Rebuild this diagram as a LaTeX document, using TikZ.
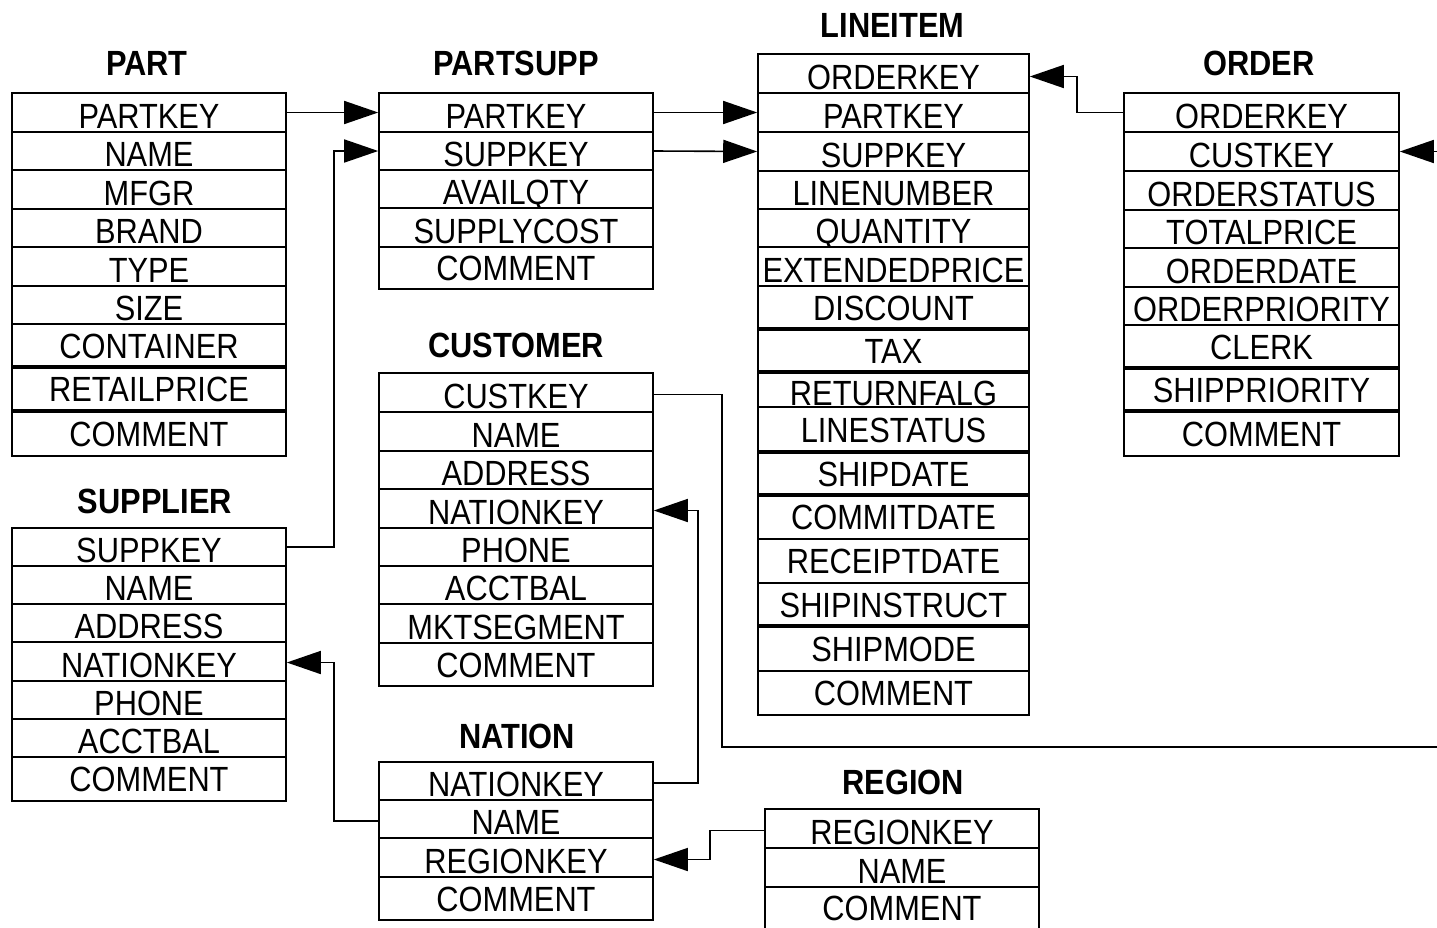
\documentclass[tikz,border=0pt]{standalone}
\usepackage{fontspec}
\newfontfamily\dbfont[FakeStretch=0.88]{Liberation Sans}
\usetikzlibrary{arrows.meta}
\tikzset{
  row/.style={draw, line width=1.6pt, fill=white, inner sep=0pt, text depth=0pt,
    font=\dbfont\fontsize{35}{42}\selectfont},
  tabletitle/.style={inner sep=0pt, text height=25pt, text depth=0pt,
    font=\dbfont\bfseries\fontsize{35}{42}\selectfont},
  sep/.style={line width=3.4pt},
  fk/.style={line width=1.6pt, -{Triangle[length=34pt,width=23pt]}}
}
\newcommand\dbtable[4]{%
  \pgfmathsetmacro\dbw{#3-#2}%
  \pgfmathsetmacro\dbx{(#2+#3)/2}%
  \foreach \lab/\rt/\rb/\nm in {#4} {%
    \pgfmathsetmacro\dbh{\rb-\rt}%
    \pgfmathsetmacro\dby{(\rt+\rb)/2}%
    \pgfmathsetmacro\dbth{\dbh<41 ? 31 : 25}%
    \node[row, minimum width=\dbw pt, minimum height=\dbh pt, text height=\dbth pt] (#1-\nm) at (\dbx,\dby) {\lab};
  }%
}
\begin{document}
\begin{tikzpicture}[x=1pt,y=-1pt]
\useasboundingbox (0,0) rectangle (1437,927);
\clip (0,0) rectangle (1437,927);

% titles
\node[tabletitle] (t-part) at (147,62.5) {PART};
\node[tabletitle] (t-partsupp) at (516,62.5) {PARTSUPP};
\node[tabletitle] (t-lineitem) at (892.5,25) {LINEITEM};
\node[tabletitle] (t-order) at (1259,63) {ORDER};
\node[tabletitle] (t-customer) at (516,345) {CUSTOMER};
\node[tabletitle] (t-supplier) at (155,501) {SUPPLIER};
\node[tabletitle] (t-nation) at (517,736) {NATION};
\node[tabletitle] (t-region) at (903,782) {REGION};

% tables
\dbtable{part}{12}{286}{PARTKEY/93/132/partkey, NAME/132/170/name, MFGR/170/209/mfgr, BRAND/209/247/brand, TYPE/247/286/type, SIZE/286/324/size, CONTAINER/324/367/container, RETAILPRICE/367/411/retailprice, COMMENT/411/456/comment}
\dbtable{partsupp}{379}{653}{PARTKEY/93/132/partkey, SUPPKEY/132/170/suppkey, AVAILQTY/170/208/availqty, SUPPLYCOST/208/247/supplycost, COMMENT/247/289/comment}
\dbtable{lineitem}{758}{1029}{ORDERKEY/54/93/orderkey, PARTKEY/93/132/partkey, SUPPKEY/132/171/suppkey, LINENUMBER/171/209/linenumber, QUANTITY/209/247/quantity, EXTENDEDPRICE/247/286/extendedprice, DISCOUNT/286/329/discount, TAX/329/372/tax, RETURNFALG/372/407/returnflag, LINESTATUS/407/452/linestatus, SHIPDATE/452/495/shipdate, COMMITDATE/495/539/commitdate, RECEIPTDATE/539/583/receiptdate, SHIPINSTRUCT/583/626/shipinstruct, SHIPMODE/626/671/shipmode, COMMENT/671/715/comment}
\dbtable{order}{1124}{1399}{ORDERKEY/93/132/orderkey, CUSTKEY/132/171/custkey, ORDERSTATUS/171/210/orderstatus, TOTALPRICE/210/248/totalprice, ORDERDATE/248/287/orderdate, ORDERPRIORITY/287/325/orderpriority, CLERK/325/368/clerk, SHIPPRIORITY/368/411/shippriority, COMMENT/411/456/comment}
\dbtable{customer}{379}{653}{CUSTKEY/373/412/custkey, NAME/412/451/name, ADDRESS/451/489/address, NATIONKEY/489/528/nationkey, PHONE/528/566/phone, ACCTBAL/566/604/acctbal, MKTSEGMENT/604/643/mktsegment, COMMENT/643/686/comment}
\dbtable{supplier}{12}{286}{SUPPKEY/528/566/suppkey, NAME/566/604/name, ADDRESS/604/642/address, NATIONKEY/642/681/nationkey, PHONE/681/719/phone, ACCTBAL/719/757/acctbal, COMMENT/757/801/comment}
\dbtable{nation}{379}{653}{NATIONKEY/762/800/nationkey, NAME/800/838/name, REGIONKEY/838/877/regionkey, COMMENT/877/920/comment}
\dbtable{region}{765}{1039}{REGIONKEY/809/848/regionkey, NAME/848/887/name, COMMENT/887/929/comment}

% thick separators
\foreach \yy in {367,411} \draw[sep] (12,\yy) -- (286,\yy);
\foreach \yy in {329,372,452,495,626} \draw[sep] (758,\yy) -- (1029,\yy);
\foreach \yy in {368,411} \draw[sep] (1124,\yy) -- (1399,\yy);

% connectors
\draw[fk] (part-partkey.east) -- (partsupp-partkey.west);
\draw[fk] (supplier-suppkey.east) -- ++(47,0) |- (partsupp-suppkey.west);
\draw[fk] (partsupp-partkey.east) -- (lineitem-partkey.west);
\draw[fk] (partsupp-suppkey.east) -- (lineitem-suppkey.west);
\draw[fk] (order-orderkey.west) -- ++(-46,0) |- ([yshift=-3pt]lineitem-orderkey.east);
\draw[fk] ([yshift=-2pt]customer-custkey.east) -| (722,747) -- (1480,747) |- (order-custkey.east);
\draw[fk] ([yshift=-2pt]nation-nationkey.east) -- ++(44,0) |- ([yshift=-2pt]customer-nationkey.east);
\draw[fk] ([yshift=-2pt]nation-name.west) -- ++(-44,0) |- ([yshift=-1pt]supplier-nationkey.east);
\draw[fk] ([yshift=-2pt]region-regionkey.west) -- ++(-54,0) |- ([yshift=-2pt]nation-regionkey.east);
\end{tikzpicture}
\end{document}
